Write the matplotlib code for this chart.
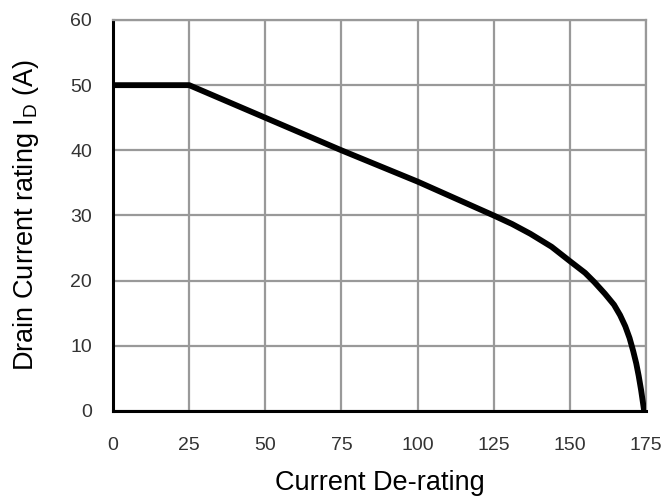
import matplotlib
matplotlib.use("Agg")
import matplotlib.pyplot as plt

plt.rcParams['font.family'] = ['Liberation Sans', 'DejaVu Sans']

# curve
temp = [0, 25, 50, 75, 100, 125, 131, 137, 144, 150, 155, 158, 161.5, 164.5,
        166.5, 168.2, 169.6, 170.8, 171.8, 172.6, 173.4, 174.4]
current = [50, 50, 45, 40, 35.2, 30, 28.7, 27.2, 25.2, 23, 21.2, 19.8, 18, 16.3,
           14.7, 13.0, 11.2, 9.2, 7.3, 5.4, 3.2, 0]

xticks = [0, 25, 50, 75, 100, 125, 150, 175]
yticks = [0, 10, 20, 30, 40, 50, 60]

fig = plt.figure(figsize=(6.69, 4.96), dpi=100)
ax = fig.add_axes([0.169, 0.1714, 0.7966, 0.7883])

ax.plot(temp, current, color='black', lw=4.2, solid_capstyle='butt',
        solid_joinstyle='round', zorder=3)

ax.set_xlim(0, 175)
ax.set_ylim(0, 60)
ax.set_xticks(xticks)
ax.set_yticks(yticks)
ax.grid(True, color='#999999', lw=1.6)
ax.set_axisbelow(True)
ax.tick_params(length=0, labelsize=14, labelcolor='#333333')
ax.tick_params(axis='x', pad=19)
ax.tick_params(axis='y', pad=15)

for s in ['top', 'right']:
    ax.spines[s].set_color('#999999')
    ax.spines[s].set_linewidth(1.6)
for s in ['left', 'bottom']:
    ax.spines[s].set_color('black')
    ax.spines[s].set_linewidth(2.2)

ax.set_xlabel("Current De-rating", fontsize=19.5, labelpad=11)
ax.set_ylabel("Drain Current rating I$_\\mathregular{D}$ (A)", fontsize=19.5, labelpad=21)

fig.savefig("out.png", dpi=100)
